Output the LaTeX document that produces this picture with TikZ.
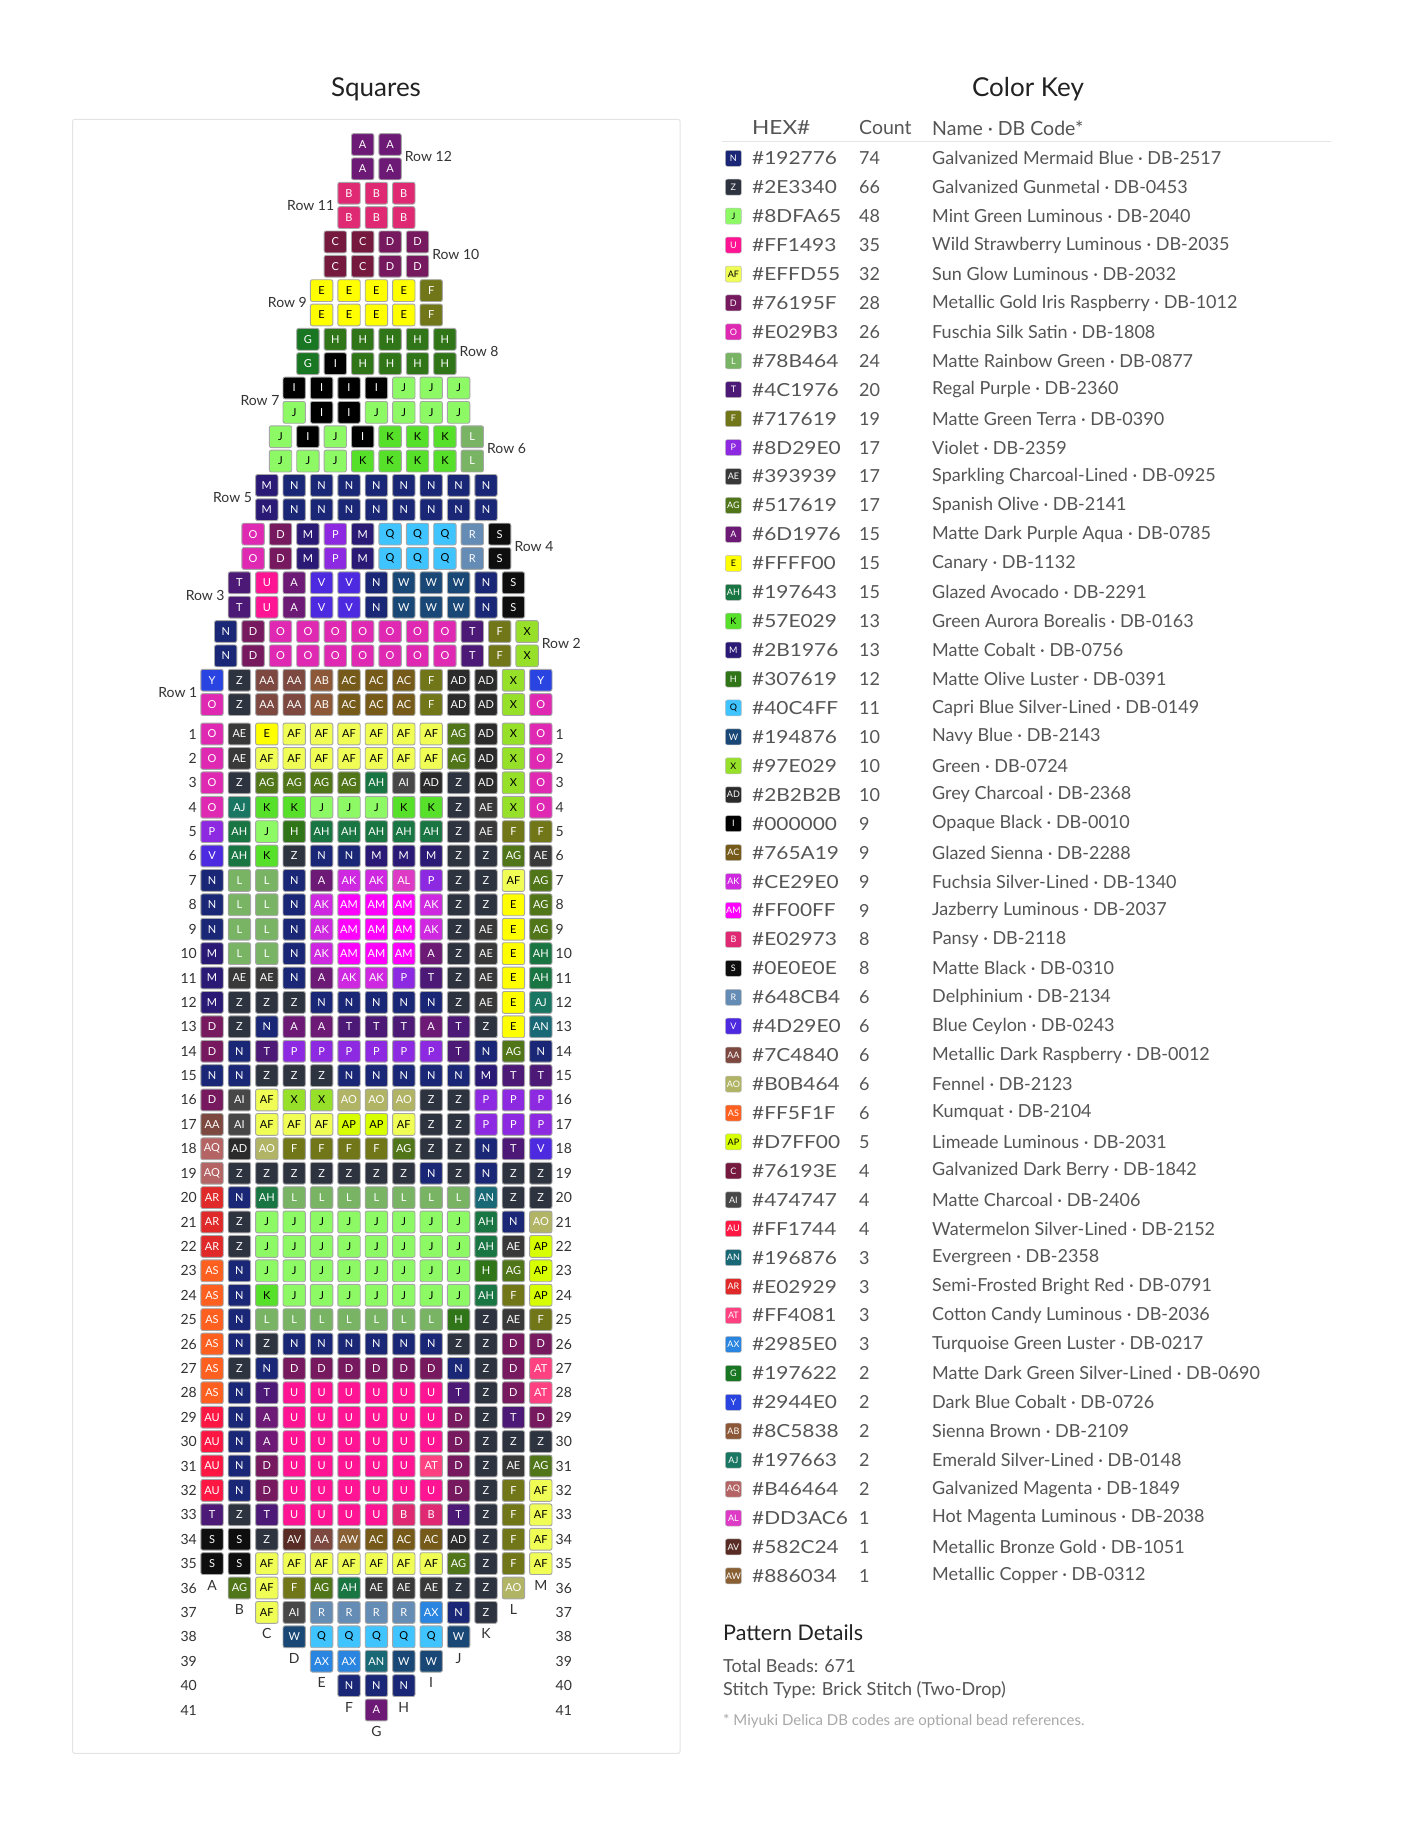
\documentclass[tikz,border=0pt]{standalone}
\usepackage{fontspec}
\setmainfont{Lato}
\newfontfamily\hexfont{Lato}[FakeStretch=1.16]
\newcommand\defbead[3]{\definecolor{c#1}{HTML}{#2}\colorlet{t#1}{#3}}
\defbead{A}{6D1976}{white}
\defbead{B}{E02973}{white}
\defbead{C}{76193E}{white}
\defbead{D}{76195F}{white}
\defbead{E}{FFFF00}{black}
\defbead{F}{717619}{white}
\defbead{G}{197622}{white}
\defbead{H}{307619}{white}
\defbead{I}{000000}{white}
\defbead{J}{8DFA65}{black}
\defbead{K}{57E029}{black}
\defbead{L}{78B464}{white}
\defbead{M}{2B1976}{white}
\defbead{N}{192776}{white}
\defbead{O}{E029B3}{white}
\defbead{P}{8D29E0}{white}
\defbead{Q}{40C4FF}{black}
\defbead{R}{648CB4}{white}
\defbead{S}{0E0E0E}{white}
\defbead{T}{4C1976}{white}
\defbead{U}{FF1493}{white}
\defbead{V}{4D29E0}{white}
\defbead{W}{194876}{white}
\defbead{X}{97E029}{black}
\defbead{Y}{2944E0}{white}
\defbead{Z}{2E3340}{white}
\defbead{AA}{7C4840}{white}
\defbead{AB}{8C5838}{white}
\defbead{AC}{765A19}{white}
\defbead{AD}{2B2B2B}{white}
\defbead{AE}{393939}{white}
\defbead{AF}{EFFD55}{black}
\defbead{AG}{517619}{white}
\defbead{AH}{197643}{white}
\defbead{AI}{474747}{white}
\defbead{AJ}{197663}{white}
\defbead{AK}{CE29E0}{white}
\defbead{AL}{DD3AC6}{white}
\defbead{AM}{FF00FF}{white}
\defbead{AN}{196876}{white}
\defbead{AO}{B0B464}{white}
\defbead{AP}{D7FF00}{black}
\defbead{AQ}{B46464}{white}
\defbead{AR}{E02929}{white}
\defbead{AS}{FF5F1F}{white}
\defbead{AT}{FF4081}{white}
\defbead{AU}{FF1744}{white}
\defbead{AV}{582C24}{white}
\defbead{AW}{886034}{white}
\defbead{AX}{2985E0}{white}
\definecolor{beadline}{HTML}{A6A6A6}
\definecolor{framegray}{HTML}{E4E4E4}
\definecolor{titlecol}{HTML}{222222}
\definecolor{labelcol}{HTML}{333333}
\definecolor{keytext}{HTML}{555555}
\definecolor{notecol}{HTML}{A8A8A8}
\tikzset{
  bead/.style={draw=beadline, line width=0.9pt, rounded corners=2pt,
    minimum width=22.4pt, minimum height=21.8pt, inner sep=0pt,
    font=\fontsize{11}{12}\selectfont},
  swatch/.style={draw=black!25, line width=0.5pt, rounded corners=2pt,
    minimum width=16pt, minimum height=16pt, inner sep=0pt,
    font=\fontsize{9}{10}\selectfont},
  rowlab/.style={text=labelcol, inner sep=0pt, font=\fontsize{14}{16}\selectfont},
  keylab/.style={text=keytext, anchor=west, inner sep=0pt, font=\fontsize{18}{20}\selectfont},
  hexlab/.style={text=keytext, anchor=west, inner sep=0pt, font=\hexfont\fontsize{18}{20}\selectfont},
  headlab/.style={text=keytext, anchor=west, inner sep=0pt, font=\fontsize{19.5}{22}\selectfont},
  titlelab/.style={text=titlecol, inner sep=0pt, font=\fontsize{26}{30}\selectfont},
}
% #1 name prefix, #2 x of first centre, #3 y, #4 list
\newcommand\beads[4]{%
  \foreach \bl [count=\bi] in {#4} {
    \node[bead, fill=c\bl, text=t\bl] (#1-\bi) at ({#2+(\bi-1)*27.4},{#3}) {\bl};
  }}
% brick rows: #1 row number, #2 top list, #3 bottom list
\newcommand\brickrow[3]{%
  \pgfmathsetmacro\bx{376.4-(13-#1)*13.7}
  \pgfmathsetmacro\by{144.5+(24-2*#1)*24.35}
  \pgfmathsetmacro\bxr{\bx+(13-#1)*27.4}
  \beads{r#1a}{\bx}{\by}{#2}
  \beads{r#1b}{\bx}{\by+24.35}{#3}
  \ifodd#1
    \node[rowlab, anchor=east] (rl#1) at ({\bx-14.6},{\by+12.2}) {Row #1};
  \else
    \node[rowlab, anchor=west] (rl#1) at ({\bxr+14.6},{\by+12.2}) {Row #1};
  \fi
}
% body rows: #1 row, #2 start column, #3 list
\newcommand\bodyrow[3]{%
  \pgfmathsetmacro\ry{734+(#1-1)*24.4}
  \beads{b#1}{212+(#2-1)*27.4}{\ry}{#3}
  \node[rowlab, anchor=east] (nl#1) at (197,\ry) {#1};
  \node[rowlab, anchor=west] (nr#1) at (555.5,\ry) {#1};
}
\newcommand\edgelab[3]{% #1 letter, #2 column, #3 row
  \node[rowlab] (el#1) at ({212+(#2-1)*27.4},{734+(#3-1)*24.4-3}) {#1};
}
\begin{document}
\begin{tikzpicture}[x=1pt,y=-1pt]
\useasboundingbox (0,0) rectangle (1405,1825);
\fill[white] (0,0) rectangle (1405,1825);

% ---------- Squares panel ----------
\node[titlelab] (sqtitle) at (376,89) {Squares};
\draw[framegray, line width=1pt, rounded corners=2pt] (72.7,119.3) rectangle (680,1753.3);

\brickrow{12}{A,A}{A,A}
\brickrow{11}{B,B,B}{B,B,B}
\brickrow{10}{C,C,D,D}{C,C,D,D}
\brickrow{9}{E,E,E,E,F}{E,E,E,E,F}
\brickrow{8}{G,H,H,H,H,H}{G,I,H,H,H,H}
\brickrow{7}{I,I,I,I,J,J,J}{J,I,I,J,J,J,J}
\brickrow{6}{J,I,J,I,K,K,K,L}{J,J,J,K,K,K,K,L}
\brickrow{5}{M,N,N,N,N,N,N,N,N}{M,N,N,N,N,N,N,N,N}
\brickrow{4}{O,D,M,P,M,Q,Q,Q,R,S}{O,D,M,P,M,Q,Q,Q,R,S}
\brickrow{3}{T,U,A,V,V,N,W,W,W,N,S}{T,U,A,V,V,N,W,W,W,N,S}
\brickrow{2}{N,D,O,O,O,O,O,O,O,T,F,X}{N,D,O,O,O,O,O,O,O,T,F,X}
\brickrow{1}{Y,Z,AA,AA,AB,AC,AC,AC,F,AD,AD,X,Y}{O,Z,AA,AA,AB,AC,AC,AC,F,AD,AD,X,O}

\bodyrow{1}{1}{O,AE,E,AF,AF,AF,AF,AF,AF,AG,AD,X,O}
\bodyrow{2}{1}{O,AE,AF,AF,AF,AF,AF,AF,AF,AG,AD,X,O}
\bodyrow{3}{1}{O,Z,AG,AG,AG,AG,AH,AI,AD,Z,AD,X,O}
\bodyrow{4}{1}{O,AJ,K,K,J,J,J,K,K,Z,AE,X,O}
\bodyrow{5}{1}{P,AH,J,H,AH,AH,AH,AH,AH,Z,AE,F,F}
\bodyrow{6}{1}{V,AH,K,Z,N,N,M,M,M,Z,Z,AG,AE}
\bodyrow{7}{1}{N,L,L,N,A,AK,AK,AL,P,Z,Z,AF,AG}
\bodyrow{8}{1}{N,L,L,N,AK,AM,AM,AM,AK,Z,Z,E,AG}
\bodyrow{9}{1}{N,L,L,N,AK,AM,AM,AM,AK,Z,AE,E,AG}
\bodyrow{10}{1}{M,L,L,N,AK,AM,AM,AM,A,Z,AE,E,AH}
\bodyrow{11}{1}{M,AE,AE,N,A,AK,AK,P,T,Z,AE,E,AH}
\bodyrow{12}{1}{M,Z,Z,Z,N,N,N,N,N,Z,AE,E,AJ}
\bodyrow{13}{1}{D,Z,N,A,A,T,T,T,A,T,Z,E,AN}
\bodyrow{14}{1}{D,N,T,P,P,P,P,P,P,T,N,AG,N}
\bodyrow{15}{1}{N,N,Z,Z,Z,N,N,N,N,N,M,T,T}
\bodyrow{16}{1}{D,AI,AF,X,X,AO,AO,AO,Z,Z,P,P,P}
\bodyrow{17}{1}{AA,AI,AF,AF,AF,AP,AP,AF,Z,Z,P,P,P}
\bodyrow{18}{1}{AQ,AD,AO,F,F,F,F,AG,Z,Z,N,T,V}
\bodyrow{19}{1}{AQ,Z,Z,Z,Z,Z,Z,Z,N,Z,N,Z,Z}
\bodyrow{20}{1}{AR,N,AH,L,L,L,L,L,L,L,AN,Z,Z}
\bodyrow{21}{1}{AR,Z,J,J,J,J,J,J,J,J,AH,N,AO}
\bodyrow{22}{1}{AR,Z,J,J,J,J,J,J,J,J,AH,AE,AP}
\bodyrow{23}{1}{AS,N,J,J,J,J,J,J,J,J,H,AG,AP}
\bodyrow{24}{1}{AS,N,K,J,J,J,J,J,J,J,AH,F,AP}
\bodyrow{25}{1}{AS,N,L,L,L,L,L,L,L,H,Z,AE,F}
\bodyrow{26}{1}{AS,N,Z,N,N,N,N,N,N,Z,Z,D,D}
\bodyrow{27}{1}{AS,Z,N,D,D,D,D,D,D,N,Z,D,AT}
\bodyrow{28}{1}{AS,N,T,U,U,U,U,U,U,T,Z,D,AT}
\bodyrow{29}{1}{AU,N,A,U,U,U,U,U,U,D,Z,T,D}
\bodyrow{30}{1}{AU,N,A,U,U,U,U,U,U,D,Z,Z,Z}
\bodyrow{31}{1}{AU,N,D,U,U,U,U,U,AT,D,Z,AE,AG}
\bodyrow{32}{1}{AU,N,D,U,U,U,U,U,U,D,Z,F,AF}
\bodyrow{33}{1}{T,Z,T,U,U,U,U,B,B,T,Z,F,AF}
\bodyrow{34}{1}{S,S,Z,AV,AA,AW,AC,AC,AC,AD,Z,F,AF}
\bodyrow{35}{1}{S,S,AF,AF,AF,AF,AF,AF,AF,AG,Z,F,AF}
\bodyrow{36}{2}{AG,AF,F,AG,AH,AE,AE,AE,Z,Z,AO}
\bodyrow{37}{3}{AF,AI,R,R,R,R,AX,N,Z}
\bodyrow{38}{4}{W,Q,Q,Q,Q,Q,W}
\bodyrow{39}{5}{AX,AX,AN,W,W}
\bodyrow{40}{6}{N,N,N}
\bodyrow{41}{7}{A}

\edgelab{A}{1}{36}
\edgelab{B}{2}{37}
\edgelab{C}{3}{38}
\edgelab{D}{4}{39}
\edgelab{E}{5}{40}
\edgelab{F}{6}{41}
\edgelab{G}{7}{42}
\edgelab{H}{8}{41}
\edgelab{I}{9}{40}
\edgelab{J}{10}{39}
\edgelab{K}{11}{38}
\edgelab{L}{12}{37}
\edgelab{M}{13}{36}

% ---------- Color key ----------
\node[titlelab] (cktitle) at (1028,89) {Color Key};
\node[headlab, font=\hexfont\fontsize{19.5}{22}\selectfont] (hhex) at (752,128) {HEX\#};
\node[headlab] (hcount) at (859,128) {Count};
\node[headlab] (hname) at (932,128) {Name · DB Code*};
\coordinate (hl1) at (722,142);
\coordinate (hl2) at (1331,142);
\draw[framegray, line width=1pt] (hl1) -- (hl2);

\foreach \kl/\kh/\kn/\km [count=\ki] in {
N/192776/74/Galvanized Mermaid Blue · DB-2517,
Z/2E3340/66/Galvanized Gunmetal · DB-0453,
J/8DFA65/48/Mint Green Luminous · DB-2040,
U/FF1493/35/Wild Strawberry Luminous · DB-2035,
AF/EFFD55/32/Sun Glow Luminous · DB-2032,
D/76195F/28/Metallic Gold Iris Raspberry · DB-1012,
O/E029B3/26/Fuschia Silk Satin · DB-1808,
L/78B464/24/Matte Rainbow Green · DB-0877,
T/4C1976/20/Regal Purple · DB-2360,
F/717619/19/Matte Green Terra · DB-0390,
P/8D29E0/17/Violet · DB-2359,
AE/393939/17/Sparkling Charcoal-Lined · DB-0925,
AG/517619/17/Spanish Olive · DB-2141,
A/6D1976/15/Matte Dark Purple Aqua · DB-0785,
E/FFFF00/15/Canary · DB-1132,
AH/197643/15/Glazed Avocado · DB-2291,
K/57E029/13/Green Aurora Borealis · DB-0163,
M/2B1976/13/Matte Cobalt · DB-0756,
H/307619/12/Matte Olive Luster · DB-0391,
Q/40C4FF/11/Capri Blue Silver-Lined · DB-0149,
W/194876/10/Navy Blue · DB-2143,
X/97E029/10/Green · DB-0724,
AD/2B2B2B/10/Grey Charcoal · DB-2368,
I/000000/9/Opaque Black · DB-0010,
AC/765A19/9/Glazed Sienna · DB-2288,
AK/CE29E0/9/Fuchsia Silver-Lined · DB-1340,
AM/FF00FF/9/Jazberry Luminous · DB-2037,
B/E02973/8/Pansy · DB-2118,
S/0E0E0E/8/Matte Black · DB-0310,
R/648CB4/6/Delphinium · DB-2134,
V/4D29E0/6/Blue Ceylon · DB-0243,
AA/7C4840/6/Metallic Dark Raspberry · DB-0012,
AO/B0B464/6/Fennel · DB-2123,
AS/FF5F1F/6/Kumquat · DB-2104,
AP/D7FF00/5/Limeade Luminous · DB-2031,
C/76193E/4/Galvanized Dark Berry · DB-1842,
AI/474747/4/Matte Charcoal · DB-2406,
AU/FF1744/4/Watermelon Silver-Lined · DB-2152,
AN/196876/3/Evergreen · DB-2358,
AR/E02929/3/Semi-Frosted Bright Red · DB-0791,
AT/FF4081/3/Cotton Candy Luminous · DB-2036,
AX/2985E0/3/Turquoise Green Luster · DB-0217,
G/197622/2/Matte Dark Green Silver-Lined · DB-0690,
Y/2944E0/2/Dark Blue Cobalt · DB-0726,
AB/8C5838/2/Sienna Brown · DB-2109,
AJ/197663/2/Emerald Silver-Lined · DB-0148,
AQ/B46464/2/Galvanized Magenta · DB-1849,
AL/DD3AC6/1/Hot Magenta Luminous · DB-2038,
AV/582C24/1/Metallic Bronze Gold · DB-1051,
AW/886034/1/Metallic Copper · DB-0312} {
  \pgfmathsetmacro\ky{158.3+(\ki-1)*28.93}
  \node[swatch, fill=c\kl, text=t\kl] (ks\ki) at (733.4,\ky) {\kl};
  \node[hexlab] (kh\ki) at (752,\ky) {\#\kh};
  \node[keylab] (kc\ki) at (859,\ky) {\kn};
  \node[keylab] (kn\ki) at (932,\ky) {\km};
}

% ---------- Pattern details ----------
\node[text=titlecol, anchor=west, inner sep=0pt, font=\fontsize{21.5}{25}\selectfont] (pdtitle) at (723,1633) {Pattern Details};
\node[keylab] (pd1) at (723,1666) {Total Beads: 671};
\node[keylab] (pd2) at (723,1690) {Stitch Type: Brick Stitch (Two-Drop)};
\node[text=notecol, anchor=west, inner sep=0pt, font=\fontsize{15}{17}\selectfont] (pdnote) at (723,1721) {* Miyuki Delica DB codes are optional bead references.};
\end{tikzpicture}
\end{document}
